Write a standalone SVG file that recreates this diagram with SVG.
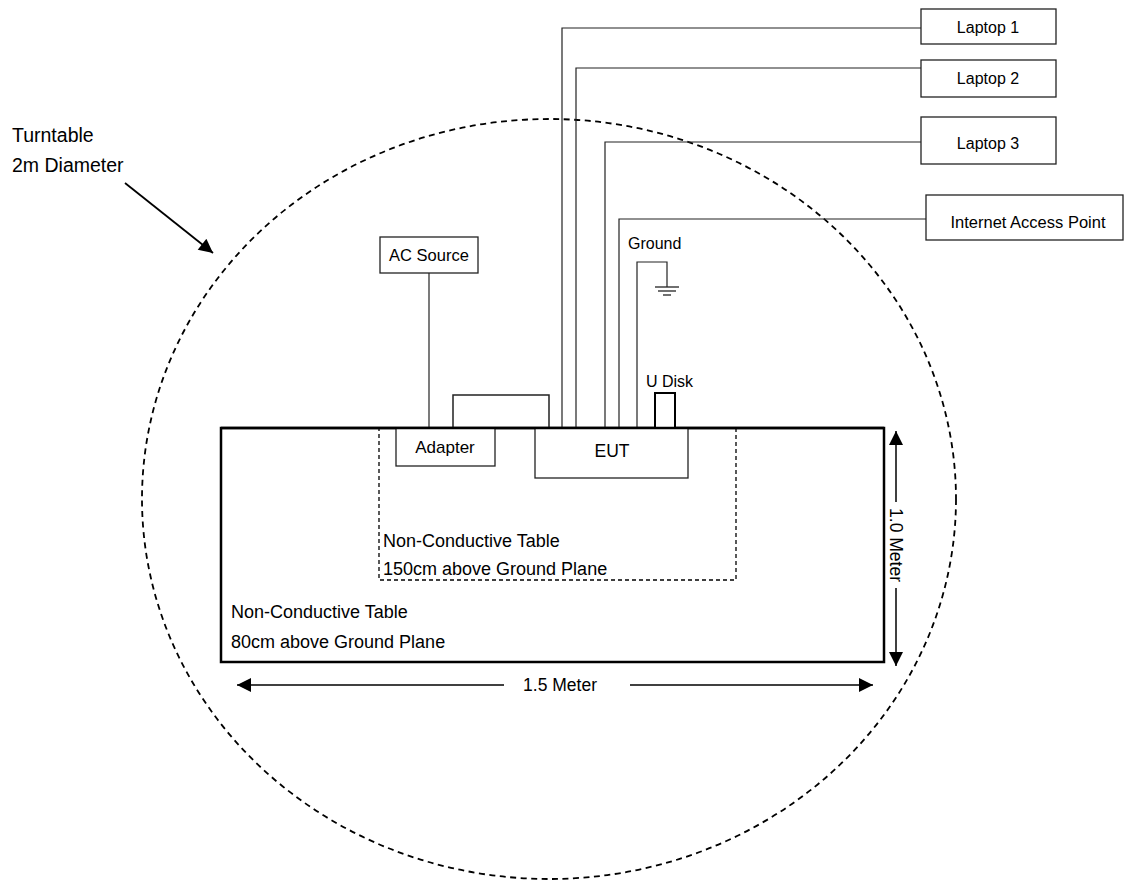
<svg xmlns="http://www.w3.org/2000/svg" width="1125" height="882" viewBox="0 0 1125 882">
<defs>
<style>
text{font-family:"Liberation Sans",Arial,sans-serif;fill:#000}
.box{fill:#fff;stroke:#222;stroke-width:1.3}
.wire{fill:none;stroke:#222;stroke-width:1.2}
.lbl{font-size:16px;text-anchor:middle}
.big{font-size:18px}
</style>
<marker id="ah2" viewBox="0 0 10 10" refX="10" refY="5" markerWidth="15" markerHeight="14" markerUnits="userSpaceOnUse" orient="auto-start-reverse">
<path d="M0,0 L10,5 L0,10 z" fill="#000"/>
</marker>
</defs>
<rect width="1125" height="882" fill="#fff"/>

<g id="turntable">
<ellipse cx="549" cy="499" rx="407" ry="380" fill="none" stroke="#000" stroke-width="1.8" stroke-dasharray="6 4.5"/>
<text x="12" y="142" style="font-size:19.5px">Turntable</text>
<text x="12" y="172" style="font-size:19.5px">2m Diameter</text>
</g>

<g id="table-80">
<rect x="221" y="428" width="663" height="234" fill="none" stroke="#000" stroke-width="2.5"/>
<text class="big" x="231" y="618">Non-Conductive Table</text>
<text class="big" x="231" y="648">80cm above Ground Plane</text>
</g>

<g id="table-150">
<rect x="379" y="428" width="357" height="152" fill="none" stroke="#000" stroke-width="1.3" stroke-dasharray="4 3"/>
<text class="big" x="383" y="547">Non-Conductive Table</text>
<text class="big" x="383" y="575">150cm above Ground Plane</text>
</g>

<g id="connectors">
<polyline class="wire" points="562,428 562,28 921,28"/>
<polyline class="wire" points="576,428 576,68 921,68"/>
<polyline class="wire" points="605,428 605,142 921,142"/>
<polyline class="wire" points="619,428 619,219 926,219"/>
<polyline class="wire" points="637,428 637,262 667,262 667,287"/>
<line class="wire" x1="429" y1="273" x2="429" y2="428"/>
<polyline class="wire" points="453,428 453,395 549,395 549,428" style="stroke-width:1.5"/>
<line x1="655" y1="287" x2="679" y2="287" stroke="#222" stroke-width="1.3"/>
<line x1="658" y1="291" x2="676" y2="291" stroke="#222" stroke-width="1.3"/>
<line x1="663" y1="295" x2="671" y2="295" stroke="#222" stroke-width="1.3"/>
<line x1="125" y1="183" x2="213" y2="253" stroke="#000" stroke-width="1.8" marker-end="url(#ah2)"/>
<line x1="896" y1="502" x2="896" y2="431" stroke="#000" stroke-width="1.5" marker-end="url(#ah2)"/>
<line x1="896" y1="588" x2="896" y2="666" stroke="#000" stroke-width="1.5" marker-end="url(#ah2)"/>
<line x1="504" y1="685" x2="237" y2="685" stroke="#000" stroke-width="1.5" marker-end="url(#ah2)"/>
<line x1="630" y1="685" x2="873" y2="685" stroke="#000" stroke-width="1.5" marker-end="url(#ah2)"/>
<text x="896" y="545" transform="rotate(90 896 545)" style="font-size:17.5px;text-anchor:middle;dominant-baseline:central">1.0 Meter</text>
<text x="560" y="691" style="font-size:17.5px;text-anchor:middle">1.5 Meter</text>
</g>

<g id="laptop1">
<rect class="box" x="921" y="9" width="135" height="35"/>
<text class="lbl" x="988" y="33">Laptop 1</text>
</g>
<g id="laptop2">
<rect class="box" x="921" y="60" width="135" height="37"/>
<text class="lbl" x="988" y="84">Laptop 2</text>
</g>
<g id="laptop3">
<rect class="box" x="921" y="117" width="135" height="47"/>
<text class="lbl" x="988" y="149">Laptop 3</text>
</g>
<g id="iap">
<rect class="box" x="926" y="195" width="197" height="45"/>
<text class="lbl" x="1028" y="228" style="font-size:16.5px">Internet Access Point</text>
</g>
<g id="ac-source">
<rect class="box" x="380" y="237" width="98" height="36"/>
<text class="lbl" x="429" y="261" style="font-size:16.5px">AC Source</text>
</g>
<g id="ground">
<text x="628" y="249" style="font-size:16px">Ground</text>
</g>
<g id="udisk">
<text x="646" y="387" style="font-size:16px">U Disk</text>
<rect x="655" y="393" width="20" height="35" fill="#fff" stroke="#000" stroke-width="2"/>
</g>
<g id="adapter">
<rect class="box" x="396" y="428" width="99" height="38"/>
<text class="lbl" x="445" y="453" style="font-size:17px">Adapter</text>
</g>
<g id="eut">
<rect class="box" x="535" y="428" width="153" height="50"/>
<text class="lbl" x="612" y="457" style="font-size:17.5px">EUT</text>
</g>
<line x1="221" y1="428" x2="884" y2="428" stroke="#000" stroke-width="2.5"/>
</svg>
